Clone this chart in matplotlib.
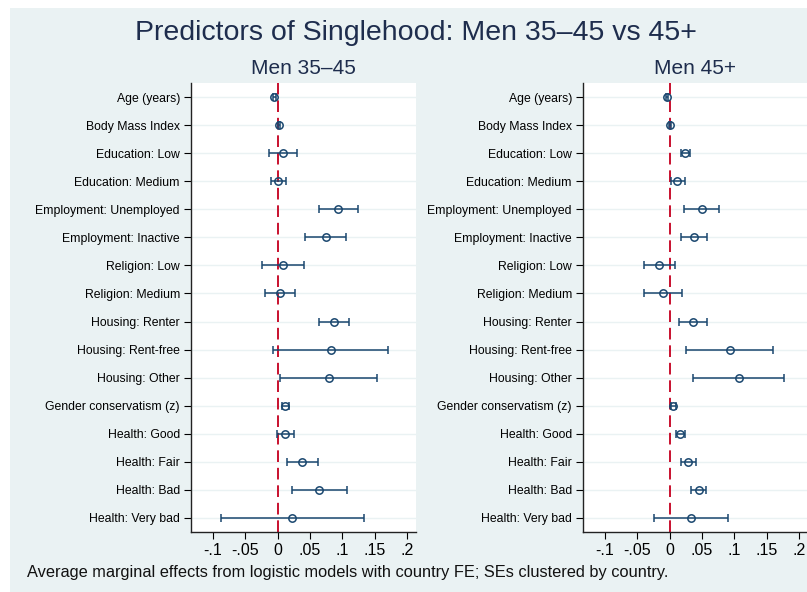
import numpy as np
import matplotlib.pyplot as plt
from matplotlib.patches import Rectangle

plt.rcParams['font.family'] = ['Liberation Sans', 'DejaVu Sans']

labels = ['Age (years)', 'Body Mass Index', 'Education: Low', 'Education: Medium',
          'Employment: Unemployed', 'Employment: Inactive', 'Religion: Low',
          'Religion: Medium', 'Housing: Renter', 'Housing: Rent-free', 'Housing: Other',
          'Gender conservatism (z)', 'Health: Good', 'Health: Fair', 'Health: Bad',
          'Health: Very bad']

# Men 35-45
est_young = [-0.005, 0.0026, 0.0083, 0.001, 0.094, 0.075, 0.0088, 0.0042,
             0.0867, 0.0826, 0.079, 0.012, 0.012, 0.038, 0.0645, 0.0227]
lo_young = [-0.007, 0.0008, -0.0133, -0.011, 0.064, 0.043, -0.0237, -0.019,
            0.0635, -0.0067, 0.003, 0.0068, -0.001, 0.014, 0.0227, -0.087]
hi_young = [-0.003, 0.0044, 0.030, 0.013, 0.125, 0.106, 0.041, 0.027,
            0.111, 0.171, 0.154, 0.018, 0.025, 0.0625, 0.107, 0.1337]

# Men 45+
est_old = [-0.0036, 0.0003, 0.0243, 0.012, 0.0496, 0.0372, -0.0165, -0.011,
           0.036, 0.093, 0.107, 0.0057, 0.016, 0.0284, 0.045, 0.033]
lo_old = [-0.0052, -0.0012, 0.0176, 0.002, 0.0228, 0.0176, -0.039, -0.040,
          0.0145, 0.0258, 0.0367, 0.0018, 0.0093, 0.0176, 0.0336, -0.0248]
hi_old = [-0.002, 0.0018, 0.032, 0.023, 0.077, 0.058, 0.0078, 0.0197,
          0.058, 0.160, 0.1765, 0.0099, 0.023, 0.040, 0.0563, 0.0909]

xticks = [-0.1, -0.05, 0, 0.05, 0.1, 0.15, 0.2]
xticklabels = ['-.1', '-.05', '0', '.05', '.1', '.15', '.2']

W, H = 807, 592
navy = '#1a476f'
bg = '#eaf2f3'

fig = plt.figure(figsize=(W / 100, H / 100), dpi=100, facecolor='white')
fig.patches.append(Rectangle((10 / W, 0), 1, (H - 8) / H, transform=fig.transFigure,
                             facecolor=bg, edgecolor='none', zorder=-10))


def px_axes(x0, x1, y0, y1):
    return fig.add_axes([x0 / W, (H - y1) / H, (x1 - x0) / W, (y1 - y0) / H])


panels = [
    ('Men 35–45', est_young, lo_young, hi_young, 191, 416),
    ('Men 45+', est_old, lo_old, hi_old, 583, 808),
]

ypos = np.arange(len(labels))
for name, est, lo, hi, x0, x1 in panels:
    ax = px_axes(x0, x1, 83, 532)
    ax.set_facecolor('white')
    est = np.array(est)
    err = np.vstack([est - np.array(lo), np.array(hi) - est])
    for y in ypos:
        ax.axhline(y, color=bg, lw=1.0, zorder=0)
    ax.axvline(0, color='#c8102e', lw=1.4, ls=(0, (6, 3)), zorder=1)
    ax.errorbar(est, ypos, xerr=err, fmt='o', ms=5.3, mfc='none', mec=navy, mew=1.1,
                ecolor=navy, elinewidth=1.1, capsize=2.9, capthick=1.1, zorder=3)
    ax.set_xlim(-0.134, 0.214)
    ax.set_ylim(len(labels) - 0.5, -0.5)
    ax.set_yticks(ypos)
    ax.set_yticklabels(labels, fontsize=8.8)
    ax.set_xticks(xticks)
    ax.set_xticklabels(xticklabels, fontsize=11.5)
    ax.tick_params(axis='y', length=5, width=0.8, pad=3)
    ax.tick_params(axis='x', length=5, width=0.8, pad=3)
    for s in ['top', 'right']:
        ax.spines[s].set_visible(False)
    for s in ['left', 'bottom']:
        ax.spines[s].set_linewidth(1.0)
        ax.spines[s].set_color('#222222')
    fig.text((x0 + x1) / 2 / W, 1 - 68 / H, name, ha='center', va='center',
             fontsize=15, color='#1e2d4d')

fig.text(416 / W, 1 - 33 / H, 'Predictors of Singlehood: Men 35–45 vs 45+',
         ha='center', va='center', fontsize=20.5, color='#1e2d4d')
fig.text(27 / W, 1 - 572 / H,
         'Average marginal effects from logistic models with country FE; SEs clustered by country.',
         ha='left', va='center', fontsize=11.8, color='#111111')

fig.savefig('out.png', dpi=100, facecolor=fig.get_facecolor())
